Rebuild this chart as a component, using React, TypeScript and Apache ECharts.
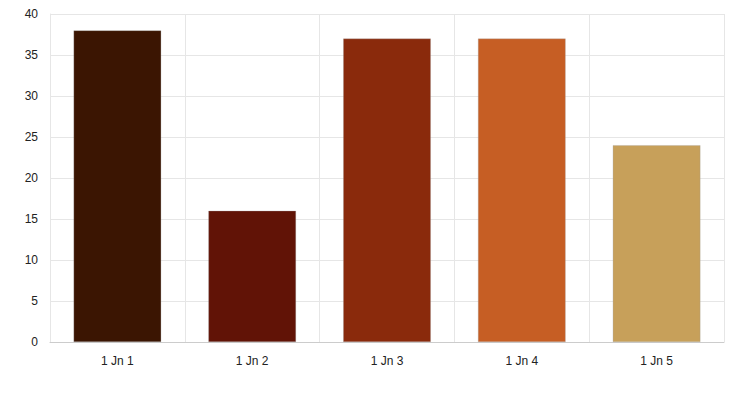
import React, { useEffect, useRef } from "react";
import * as echarts from "echarts";

const categories = ["1 Jn 1", "1 Jn 2", "1 Jn 3", "1 Jn 4", "1 Jn 5"];
const values = [38, 16, 37, 37, 24];
const colors = ["#3b1502", "#611306", "#8a2a0c", "#c65e24", "#c7a05a"];

export default function App() {
  const ref = useRef<HTMLDivElement>(null);
  useEffect(() => {
    const chart = echarts.init(ref.current!, null, { renderer: "svg" });
    chart.setOption({
      animation: false,
      textStyle: { fontFamily: "Liberation Sans" },
      grid: { left: 50, right: 16, top: 14, bottom: 54 },
      xAxis: {
        type: "category",
        data: categories,
        axisTick: { show: false },
        axisLine: { lineStyle: { color: "#cccccc" } },
        axisLabel: { color: "#222", fontSize: 12, margin: 13 },
        splitLine: { show: true, lineStyle: { color: "#e6e6e6" } },
      },
      yAxis: {
        type: "value",
        min: 0,
        max: 40,
        interval: 5,
        axisLine: { show: true, lineStyle: { color: "#e6e6e6" } },
        axisTick: { show: false },
        axisLabel: { color: "#222", fontSize: 12, margin: 12 },
        splitLine: { lineStyle: { color: "#e6e6e6" } },
      },
      series: [
        {
          type: "bar",
          barWidth: "65%",
          data: values.map((v, i) => ({
            value: v,
            itemStyle: { color: colors[i], borderColor: "rgba(160,160,160,0.6)", borderWidth: 0.5 },
          })),
        },
      ],
    });
    return () => chart.dispose();
  }, []);
  return <div ref={ref} style={{ width: 740, height: 396, margin: -8 }} />;
}
